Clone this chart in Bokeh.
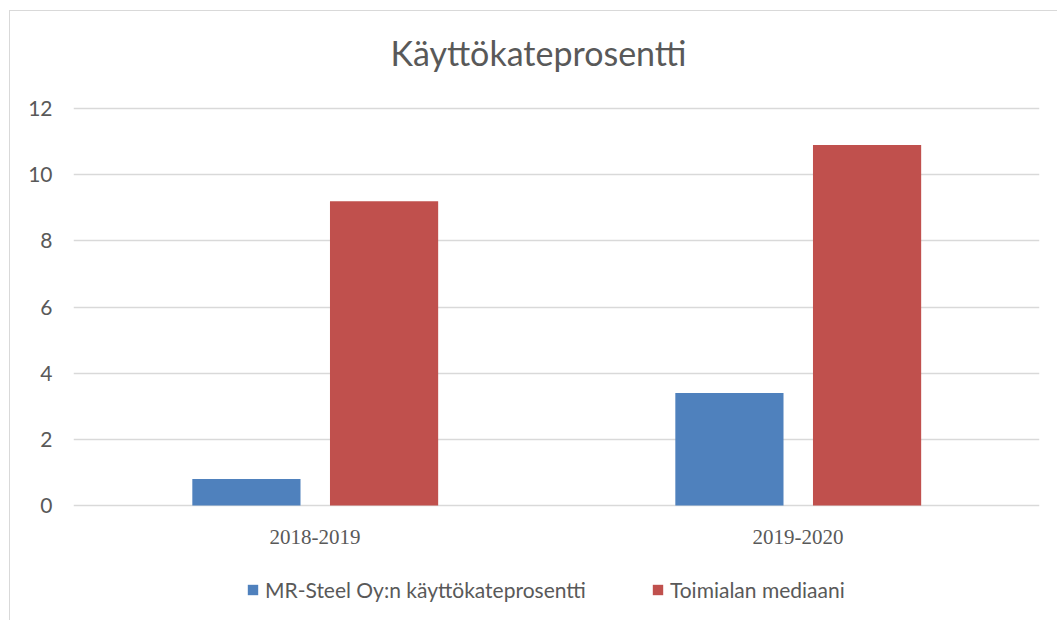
from bokeh.plotting import figure
from bokeh.models import (ColumnDataSource, FactorRange, Range1d, FixedTicker, Legend, LegendItem,
                          Label, LabelSet)
from bokeh.transform import dodge
from bokeh.embed import file_html
from bokeh.resources import INLINE

categories = ["2018-2019", "2019-2020"]
company = [0.8, 3.4]
median = [9.2, 10.9]
series_names = ["MR-Steel Oy:n käyttökateprosentti", "Toimialan mediaani"]
title_text = "Käyttökateprosentti"
y_ticks = [0, 2, 4, 6, 8, 10, 12]

FONT = "Lato"
TXT = "#595959"
GRID = "#d9d9d9"

src = ColumnDataSource(dict(cat=categories, company=company, median=median))

# frame extended above/below the value area so title, category labels and legend sit inside it
p = figure(frame_width=966, frame_height=599, x_range=FactorRange(*categories, range_padding=0),
           y_range=Range1d(-3.325, 14.781), output_backend="svg", toolbar_location=None,
           min_border_left=63, min_border_right=18, min_border_top=5, min_border_bottom=5)
p.outline_line_color = None
p.styles = {"margin-left": "9px", "margin-top": "10px",
            "border-top": "1px solid #d9d9d9", "border-left": "1px solid #d9d9d9"}

r1 = p.vbar(x=dodge("cat", -0.142, range=p.x_range), top="company", width=0.224, source=src,
            fill_color="#4f81bd", line_color=None)
r2 = p.vbar(x=dodge("cat", 0.143, range=p.x_range), top="median", width=0.224, source=src,
            fill_color="#c0504d", line_color=None)

p.xgrid.grid_line_color = None
p.ygrid.grid_line_color = GRID
p.ygrid.grid_line_width = 1.5
p.ygrid.level = "underlay"

p.xaxis.visible = False
p.yaxis.ticker = FixedTicker(ticks=y_ticks)
ax = p.yaxis[0]
ax.axis_line_color = None
ax.major_tick_line_color = None
ax.minor_tick_line_color = None
ax.major_label_text_font = FONT
ax.major_label_text_font_size = "21px"
ax.major_label_text_color = TXT
ax.major_label_standoff = 15

p.add_layout(LabelSet(x="cat", y=-0.952, text="cat", source=src, text_font=FONT,
                      text_font_size="21px", text_color=TXT, text_align="center",
                      text_baseline="middle"))

p.add_layout(Label(x=1.0, y=13.69, x_offset=-18, text=title_text, text_font=FONT,
                   text_font_size="34px", text_color=TXT, text_align="center",
                   text_baseline="middle"))

legend = Legend(items=[LegendItem(label=series_names[0], renderers=[r1]),
                       LegendItem(label=series_names[1], renderers=[r2])],
                orientation="horizontal", location=(173, 13), border_line_color=None,
                background_fill_alpha=0, margin=0, padding=0,
                label_text_font=FONT, label_text_font_size="21px", label_text_color=TXT,
                glyph_width=13, glyph_height=13, spacing=65, label_standoff=6)
p.add_layout(legend)

open("out.html", "w").write(file_html(p, INLINE))
